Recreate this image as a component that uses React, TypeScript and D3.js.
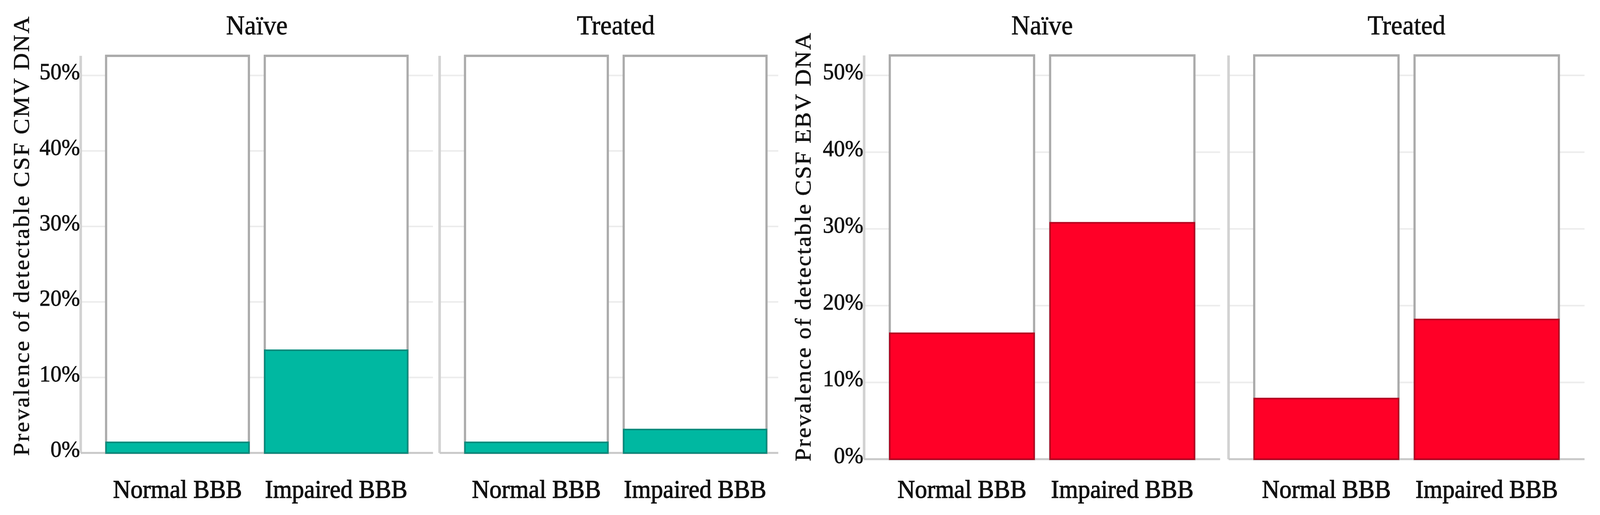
import React from 'react';
import { scaleBand, scaleLinear } from 'd3';

const W = 4342;
const H = 1319;

// data
const groups = ['Naïve', 'Treated'];
const barriers = ['Normal BBB', 'Impaired BBB'];
const cmvNaive = [1.4, 13.6];
const cmvTreated = [1.4, 3.1];
const ebvNaive = [16.4, 30.8];
const ebvTreated = [7.9, 18.2];
const yTicks = [0, 10, 20, 30, 40, 50];
const yMax = 52.6;

const FONT = '"Liberation Serif", "Times New Roman", serif';

interface FacetChartProps {
    title: string;
    values: number[][];
    fill: string;
    stroke: string;
    x0: number;
    panelW: number;
    gap: number;
    yBottom: number;
    yTop: number;
    clipRight: number;
    labelX: number;
    labelY: number;
    labelLen: number;
    id: string;
}

const FacetChart: React.FC<FacetChartProps> = ({
    title, values, fill, stroke, x0, panelW, gap, yBottom, yTop, clipRight, labelX, labelY, labelLen, id
}) => {
    const y = scaleLinear().domain([0, yMax]).range([yBottom, yTop]);

    return (
        <g>
            <defs>
                <clipPath id={id}>
                    <rect x={0} y={0} width={clipRight} height={H} />
                </clipPath>
            </defs>

            {/* y axis title */}
            <text
                transform={`translate(${labelX},${labelY}) rotate(-90)`}
                textAnchor="middle"
                fontFamily={FONT}
                fontSize={60}
                textLength={labelLen}
                lengthAdjust="spacing"
                fill="#111"
                stroke="#111"
                strokeWidth={0.8}
            >
                {title}
            </text>

            {/* tick labels */}
            {yTicks.map(t => (
                <text
                    key={t}
                    x={x0 - 2}
                    y={y(t) + 10}
                    textAnchor="end"
                    fontFamily={FONT}
                    fontSize={60}
                    fill="#111"
                    stroke="#111"
                    strokeWidth={1}
                >
                    {`${t}%`}
                </text>
            ))}

            <g clipPath={`url(#${id})`}>
                {groups.map((g, gi) => {
                    const left = x0 + gi * (panelW + gap);
                    const x = scaleBand<string>()
                        .domain(barriers)
                        .range([left, left + panelW])
                        .paddingInner(0.1)
                        .paddingOuter(0.16);
                    return (
                        <g key={g}>
                            {/* gridlines */}
                            {yTicks.map(t => (
                                <line key={t} x1={left} x2={left + panelW} y1={y(t)} y2={y(t)}
                                    stroke="#ececec" strokeWidth={4} />
                            ))}
                            {/* panel axis line */}
                            <line x1={left} x2={left} y1={y(yMax)} y2={y(0)} stroke="#d2d2d2" strokeWidth={7} />
                            {/* baseline */}
                            <line x1={left} x2={left + panelW} y1={y(0)} y2={y(0)} stroke="#c8c8c8" strokeWidth={5} />

                            {/* facet title */}
                            <text
                                x={left + panelW / 2}
                                y={88}
                                textAnchor="middle"
                                fontFamily={FONT}
                                fontSize={70}
                                fill="#111"
                                stroke="#111"
                                strokeWidth={1}
                            >
                                {g}
                            </text>

                            {barriers.map((b, bi) => {
                                const bx = x(b) as number;
                                const bw = x.bandwidth();
                                const v = values[gi][bi];
                                return (
                                    <g key={b}>
                                        <rect x={bx} y={y(yMax)} width={bw} height={y(0) - y(yMax)}
                                            fill="#fff" stroke="#ababab" strokeWidth={6} />
                                        <rect x={bx} y={y(v)} width={bw} height={y(0) - y(v)}
                                            fill={fill} stroke={stroke} strokeWidth={4} />
                                        <text
                                            x={bx + bw / 2}
                                            y={1275}
                                            textAnchor="middle"
                                            fontFamily={FONT}
                                            fontSize={66}
                                            fill="#111"
                                            stroke="#111"
                                            strokeWidth={1.4}
                                        >
                                            {b}
                                        </text>
                                    </g>
                                );
                            })}
                        </g>
                    );
                })}
            </g>
        </g>
    );
};

const App: React.FC = () => {
    return (
        <svg
            viewBox={`0 0 ${W} ${H}`}
            preserveAspectRatio="none"
            style={{ position: 'fixed', left: 0, top: 0, width: '100%', height: '100%', display: 'block', background: '#fff' }}
        >
            <rect width={W} height={H} fill="#fff" />
            <FacetChart
                id="clipCmv"
                title="Prevalence of detectable CSF CMV DNA"
                values={[cmvNaive, cmvTreated]}
                fill="#00b8a1"
                stroke="#008a7b"
                x0={219}
                panelW={956}
                gap={18}
                yBottom={1160}
                yTop={143}
                clipRight={2112}
                labelX={78}
                labelY={605}
                labelLen={1125}
            />
            <FacetChart
                id="clipEbv"
                title="Prevalence of detectable CSF EBV DNA"
                values={[ebvNaive, ebvTreated]}
                fill="#ff0027"
                stroke="#b4001e"
                x0={2345}
                panelW={966}
                gap={23}
                yBottom={1176}
                yTop={142}
                clipRight={W}
                labelX={2200}
                labelY={633}
                labelLen={1097}
            />
        </svg>
    );
};

export default App;
